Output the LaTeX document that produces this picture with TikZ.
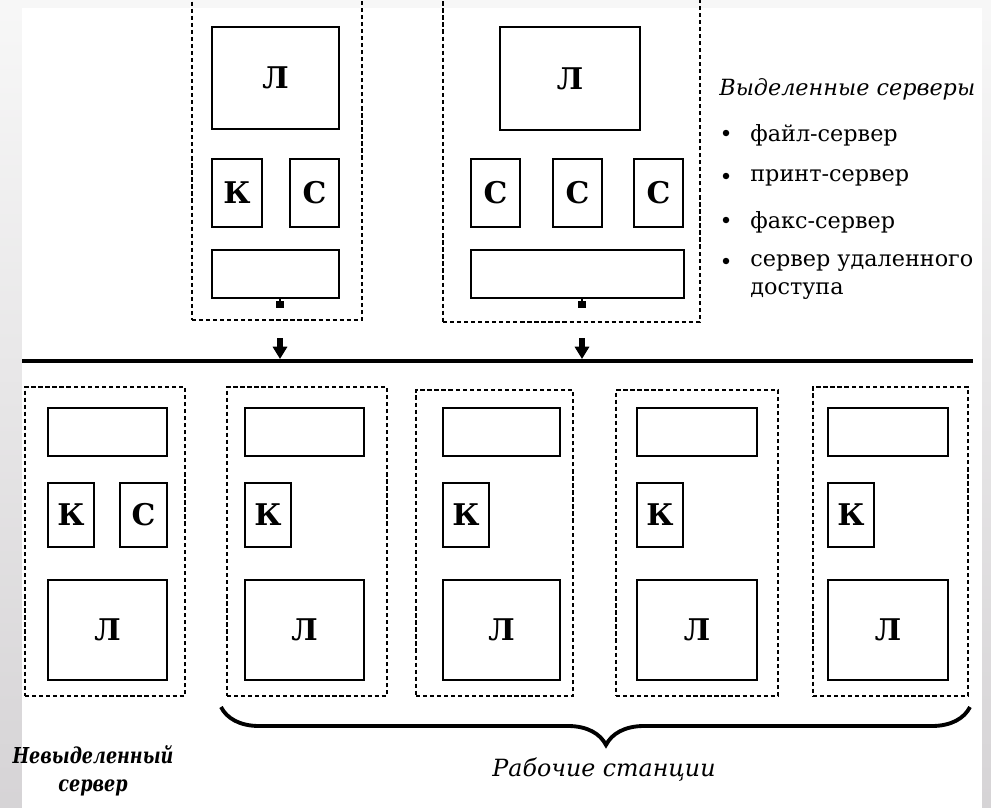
\documentclass[tikz,border=0pt]{standalone}
\usepackage{fontspec}
\setmainfont{DejaVu Serif}
\usetikzlibrary{arrows.meta,decorations.pathreplacing}

\tikzset{
  boxsize/.style 2 args={minimum width=#1*0.02cm, minimum height=#2*0.02cm},
  part/.style={draw, line width=1.1pt, inner sep=0pt, fill=white,
    font=\bfseries\fontsize{17}{17}\selectfont},
  host/.style={draw, line width=1.1pt, dash pattern=on 2.4pt off 1.6pt, inner sep=0pt},
  item/.style={anchor=west, inner sep=0pt, font=\fontsize{12.7}{14}\selectfont},
  caption/.style={inner sep=0pt, font=\itshape\fontsize{13.5}{16}\selectfont},
  bullet/.style={circle, fill, inner sep=0pt, minimum size=0.13cm},
}

\begin{document}
\begin{tikzpicture}[x=0.02cm, y=-0.02cm]
\useasboundingbox (0,0) rectangle (991,808);
\clip (0,0) rectangle (991,808);

% slide background
\shade[top color=black!3, bottom color=violet!10!black!17] (0,0) rectangle (991,808);
\fill[white] (22,8) rectangle (982,808);

% dedicated servers
\node[host, boxsize={170}{330}] (srvA) at (277,155) {};
\node[part, boxsize={127}{102}] (srvA-l) at (275.5,78) {Л};
\node[part, boxsize={50}{68}] (srvA-k) at (237,193) {К};
\node[part, boxsize={49}{68}] (srvA-c) at (314.5,193) {С};
\node[part, boxsize={127}{48}] (srvA-nic) at (275.5,274) {};

\node[host, boxsize={257}{332}] (srvB) at (571.5,156) {};
\node[part, boxsize={140}{103}] (srvB-l) at (570,78.5) {Л};
\node[part, boxsize={49}{68}] (srvB-c1) at (495.5,193) {С};
\node[part, boxsize={49}{68}] (srvB-c2) at (577.5,193) {С};
\node[part, boxsize={49}{68}] (srvB-c3) at (658.5,193) {С};
\node[part, boxsize={213}{48}] (srvB-nic) at (577.5,274) {};

% legend
\node[caption, anchor=west, font=\itshape\fontsize{12.7}{14}\selectfont] (hdr) at (719,89) {Выделенные серверы};
\foreach \n/\y/\t in {1/135/файл-сервер, 2/178/принт-сервер,
                      3/222/факс-сервер, 4/263/сервер удаленного} {
  \node[bullet] (dot\n) at (726,\y-2) {};
  \node[item] (it\n) at (750,\y) {\t};
}
\node[item] (it5) at (750,291) {доступа};

% bus
\coordinate (busL) at (22,361);
\coordinate (busR) at (973,361);
\draw[line width=2.4pt] (busL) -- (busR);

% taps
\coordinate (stubA) at (280,308);
\coordinate (stubB) at (582,308);
\coordinate (dropA) at (280,338);
\coordinate (dropB) at (582,338);
\coordinate (tapA) at (280,359);
\coordinate (tapB) at (582,359);
\draw[line width=1.1pt, -{Square[length=4pt, width=4pt]}] (srvA-nic.south -| stubA) -- (stubA);
\draw[line width=1.1pt, -{Square[length=4pt, width=4pt]}] (srvB-nic.south -| stubB) -- (stubB);
\draw[line width=3.5pt, -{Triangle[length=7pt, width=8pt]}] (dropA) -- (tapA);
\draw[line width=3.5pt, -{Triangle[length=7pt, width=8pt]}] (dropB) -- (tapB);

% workstations
\foreach \i/\cx/\w/\cy/\h/\ix/\iw in {1/105/160/541.5/309/107.5/119,
    2/307/160/541.5/309/304.5/119, 3/494.5/157/543/306/501.5/117,
    4/697/162/543/306/697/120, 5/890.5/155/541.5/309/888/120} {
  \node[host, boxsize={\w}{\h}] (ws\i) at (\cx,\cy) {};
  \node[part, boxsize={\iw}{48}] (ws\i-nic) at (\ix,432) {};
  \node[part, boxsize={46}{64}] (ws\i-k) at (\ix-\iw/2+23,515) {К};
  \node[part, boxsize={\iw}{100}] (ws\i-l) at (\ix,630) {Л};
}
\node[part, boxsize={47}{64}] (ws1-c) at (143.5,515) {С};

% brace and captions
\coordinate (brL) at (221,707);
\coordinate (brR) at (970,707);
\draw[line width=2.2pt, decorate,
  decoration={brace, mirror, amplitude=0.76cm, aspect=0.514}] (brL) -- (brR);
\node[caption] (ws-cap) at (604,770) {Рабочие станции};
\node[caption, font=\bfseries\itshape\fontsize{12.5}{16}\selectfont, align=center]
  (nd-cap) at (93,771) {\scalebox{0.8}[1]{Невыделенный}\\\scalebox{0.8}[1]{сервер}};
\end{tikzpicture}
\end{document}
